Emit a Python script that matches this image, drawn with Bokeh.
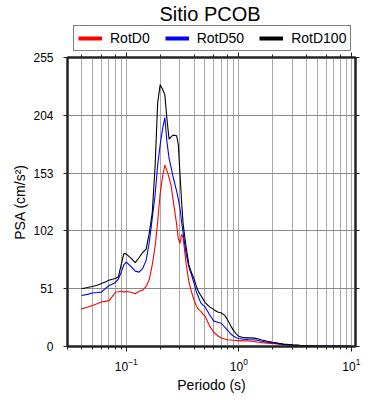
import numpy as np
from bokeh.plotting import figure
from bokeh.layouts import column
from bokeh.models import (Range1d, LogAxis, LinearAxis, FixedTicker, Legend,
                          LegendItem, Label, CustomJSTickFormatter)
from bokeh.embed import file_html
from bokeh.resources import INLINE

periods = [0.04, 0.045, 0.05, 0.055, 0.06, 0.065, 0.07, 0.075, 0.08, 0.085,
           0.09, 0.095, 0.1, 0.11, 0.12, 0.13, 0.14, 0.15, 0.16, 0.17,
           0.18, 0.19, 0.2, 0.21, 0.22, 0.23, 0.24, 0.25, 0.26, 0.28,
           0.29, 0.3, 0.31, 0.32, 0.34, 0.36, 0.38, 0.4, 0.42, 0.44,
           0.46, 0.48, 0.5, 0.55, 0.6, 0.65, 0.7, 0.75, 0.8, 0.85,
           0.9, 0.95, 1.0, 1.1, 1.2, 1.3, 1.4, 1.5, 1.6, 1.8,
           2.0, 2.5, 3.0, 3.5, 4.0, 5.0, 6.0, 7.5, 10.0]

rotd0 = [33.2, 34.7, 36.2, 37.8, 39.3, 39.8, 40.5, 44.0, 47.9, 48.3,
         49.0, 48.0, 48.5, 47.9, 46.5, 48.8, 49.8, 53.0, 59.0, 72.0,
         88.0, 110.0, 135.0, 150.0, 160.0, 155.0, 149.0, 142.0, 130.0, 108.0,
         95.0, 91.0, 99.0, 96.0, 73.0, 57.0, 48.0, 41.0, 35.5, 32.5,
         31.0, 28.5, 27.0, 18.0, 12.6, 9.5, 7.5, 6.6, 6.0, 5.8,
         5.5, 5.3, 5.2, 5.0, 4.8, 4.6, 4.2, 3.8, 3.4, 3.0,
         2.6, 1.6, 1.0, 0.7, 0.5, 0.3, 0.2, 0.15, 0.1]

rotd50 = [45.0, 46.0, 47.2, 47.6, 48.0, 51.0, 53.8, 55.0, 56.5, 59.5,
          65.5, 72.0, 74.4, 70.6, 66.5, 65.6, 69.0, 76.0, 92.0, 113.0,
          133.0, 160.0, 178.0, 192.0, 202.0, 180.0, 166.0, 158.0, 150.0, 137.0,
          130.0, 122.0, 110.0, 100.0, 82.0, 70.0, 63.0, 56.0, 48.0, 43.0,
          38.5, 36.5, 35.0, 28.0, 22.4, 21.4, 20.5, 17.0, 14.1, 11.0,
          9.0, 7.8, 7.0, 6.4, 6.1, 6.0, 5.8, 5.3, 4.7, 3.8,
          3.2, 1.9, 1.2, 0.9, 0.7, 0.4, 0.3, 0.25, 0.15]

rotd100 = [51.0, 52.0, 53.0, 54.0, 55.5, 57.0, 58.5, 59.3, 60.0, 61.5,
           72.0, 82.0, 81.5, 78.0, 74.0, 78.5, 83.0, 86.0, 100.0, 118.0,
           158.0, 215.0, 231.0, 227.0, 222.0, 200.0, 183.0, 185.0, 186.5, 186.0,
           178.0, 152.0, 128.0, 108.0, 88.0, 72.0, 65.0, 59.7, 53.0, 48.0,
           45.0, 42.0, 39.0, 35.0, 32.5, 30.5, 29.5, 27.5, 23.0, 18.0,
           14.0, 11.0, 9.0, 7.8, 7.6, 7.6, 7.2, 6.6, 5.8, 4.6,
           3.8, 2.2, 1.4, 1.0, 0.8, 0.5, 0.4, 0.3, 0.2]

title_text = "Sitio PCOB"
series_names = ["RotD0", "RotD50", "RotD100"]
series_colors = ["#ff0000", "#0000ff", "#000000"]
y_ticks = [0, 51, 102, 153, 204, 255]

FONT = "Liberation Sans"
AX = "#222222"
W = 390
HEAD_H = 52
LEFT, RIGHT = 67, 35

# ---------- header: title + legend (frame aligned with the plot frame) ----------
h = figure(width=W, height=HEAD_H, title=None,
           x_range=Range1d(LEFT, W - RIGHT), y_range=Range1d(0, HEAD_H),
           output_backend="svg", toolbar_location=None, min_border=0,
           min_border_left=LEFT, min_border_right=RIGHT,
           x_axis_location=None, y_axis_location=None)
h.grid.visible = False
h.outline_line_color = None
h.add_layout(Label(x=209.5, y=39, text=title_text, text_align="center",
                   text_baseline="alphabetic", text_font=FONT,
                   text_font_size="20px", text_color="black"))

items = []
for name, color in zip(series_names, series_colors):
    r = h.line(x=np.array([np.nan, np.nan]), y=np.array([np.nan, np.nan]),
               line_color=color, line_width=4)
    items.append(LegendItem(label=name, renderers=[r]))

legend = Legend(items=items, orientation="horizontal", location=(6, 1))
legend.label_text_font = FONT
legend.label_text_font_size = "14px"
legend.label_text_color = "black"
legend.glyph_width = 24
legend.glyph_height = 14
legend.label_height = 14
legend.label_standoff = 8
legend.spacing = 15
legend.padding = 4
legend.margin = 0
legend.border_line_color = "black"
legend.border_line_width = 1.5
legend.background_fill_color = "white"
legend.background_fill_alpha = 1
h.add_layout(legend)

# ---------- main plot ----------
p = figure(width=W, height=400 - HEAD_H, x_axis_type="log",
           x_range=Range1d(0.03, 10.9), y_range=Range1d(0, 255),
           output_backend="svg", toolbar_location=None,
           min_border_left=LEFT, min_border_right=RIGHT,
           min_border_top=5, min_border_bottom=54)

p.outline_line_color = AX
p.outline_line_width = 2
p.background_fill_color = "white"

p.yaxis.ticker = FixedTicker(ticks=y_ticks)
p.ygrid.ticker = FixedTicker(ticks=y_ticks)
p.xgrid.grid_line_color = "#a8a8a8"
p.xgrid.minor_grid_line_color = "#a8a8a8"
p.ygrid.grid_line_color = "#8a8a8a"


def style_axis(ax):
    ax.axis_line_width = 2
    ax.axis_line_color = AX
    ax.major_tick_line_color = AX
    ax.minor_tick_line_color = AX
    ax.major_tick_in = 0
    ax.major_tick_out = 4
    ax.minor_tick_in = 0
    ax.minor_tick_out = 2
    ax.major_label_text_font = FONT
    ax.major_label_text_font_size = "12px"
    ax.major_label_text_color = "black"
    ax.axis_label_text_font = FONT
    ax.axis_label_text_font_size = "14px"
    ax.axis_label_text_font_style = "normal"
    ax.axis_label_text_color = "black"


for ax in p.xaxis:
    style_axis(ax)
    ax.axis_label = "Periodo (s)"
    ax.major_tick_out = 5
    ax.minor_tick_out = 3
    ax.major_label_standoff = 6
    ax.axis_label_standoff = 3
for ax in p.yaxis:
    style_axis(ax)
    ax.axis_label = "PSA (cm/s²)"
    ax.minor_tick_out = 0
    ax.major_label_standoff = 10
    ax.axis_label_standoff = 2

blank = CustomJSTickFormatter(code="return ''")
top_axis = LogAxis(formatter=blank)
style_axis(top_axis)
top_axis.major_tick_out = 5
top_axis.minor_tick_out = 3
top_axis.major_label_standoff = 0
p.add_layout(top_axis, "above")

right_axis = LinearAxis(ticker=FixedTicker(ticks=y_ticks), formatter=blank)
style_axis(right_axis)
right_axis.minor_tick_out = 0
right_axis.major_label_standoff = 0
p.add_layout(right_axis, "right")

for name, color, vals in zip(series_names, series_colors, [rotd0, rotd50, rotd100]):
    p.line(periods, vals, line_color=color, line_width=1.1)

layout = column(h, p, spacing=0)
open("out.html", "w").write(file_html(layout, INLINE))
